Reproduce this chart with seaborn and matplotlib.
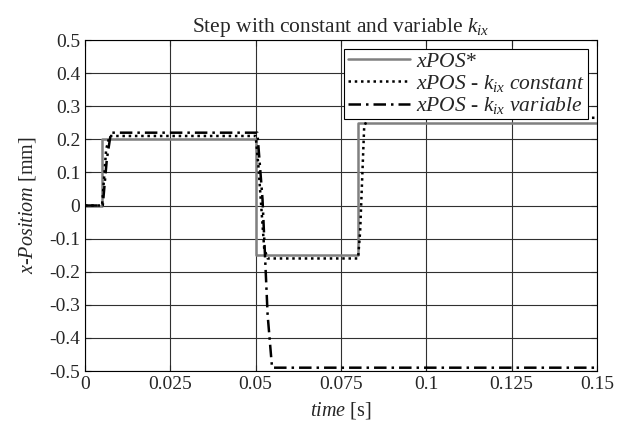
import matplotlib
matplotlib.use("Agg")
import matplotlib.pyplot as plt
import seaborn as sns
import pandas as pd

sns.set_style("ticks")
plt.rcParams['font.family'] = ['Liberation Serif', 'DejaVu Serif']
plt.rcParams['mathtext.fontset'] = 'custom'
plt.rcParams['mathtext.rm'] = 'Liberation Serif'
plt.rcParams['mathtext.it'] = 'Liberation Serif:italic'

t_ref = [0, 0.005, 0.005, 0.05, 0.05, 0.08, 0.08, 0.15]
y_ref = [0, 0, 0.2, 0.2, -0.15, -0.15, 0.25, 0.25]
t_const = [0, 0.005, 0.0062, 0.0072, 0.05, 0.0508, 0.0525, 0.0535, 0.08, 0.0806, 0.0818, 0.083, 0.15]
y_const = [0, 0, 0.17, 0.21, 0.21, 0.12, -0.13, -0.16, -0.16, -0.08, 0.24, 0.265, 0.265]
t_var = [0, 0.0052, 0.0064, 0.0076, 0.0505, 0.052, 0.0535, 0.0548, 0.15]
y_var = [0, 0, 0.14, 0.22, 0.22, 0.02, -0.33, -0.49, -0.49]

labels = [r"$xPOS$*", r"$xPOS$ - $k_{ix}$ $constant$", r"$xPOS$ - $k_{ix}$ $variable$"]

fig = plt.figure(figsize=(6.17, 4.23), dpi=100)
ax = fig.add_axes([85 / 617, 1 - 371 / 423, 512 / 617, 331 / 423])

sns.lineplot(x=t_ref, y=y_ref, ax=ax, sort=False, estimator=None, color='#808080', lw=1.8, label=labels[0])
sns.lineplot(x=t_const, y=y_const, ax=ax, sort=False, estimator=None, color='black', lw=1.8,
             linestyle=(0, (1, 1.5)), label=labels[1])
sns.lineplot(x=t_var, y=y_var, ax=ax, sort=False, estimator=None, color='black', lw=1.8,
             linestyle=(0, (5, 2, 1, 2)), label=labels[2])

ax.set_xlim(0, 0.15)
ax.set_ylim(-0.5, 0.5)
ax.set_xticks([0, 0.025, 0.05, 0.075, 0.1, 0.125, 0.15])
ax.set_xticklabels(['0', '0.025', '0.05', '0.075', '0.1', '0.125', '0.15'])
yt = [round(-0.5 + 0.1 * i, 1) for i in range(11)]
ax.set_yticks(yt)
ax.set_yticklabels(['0' if v == 0 else f"{v:g}" for v in yt])
ax.grid(True, color='#303030', lw=0.8)
ax.tick_params(direction='in', labelsize=14, top=True, right=True, length=4)
for s in ax.spines.values():
    s.set_color('black')
    s.set_linewidth(0.8)

ax.set_title(r"Step with constant and variable $k_{ix}$", fontsize=15.5, pad=6)
ax.set_xlabel(r"$time$ [s]", fontsize=14.5, labelpad=5)
ax.set_ylabel(r"$x$-$Positiom$ [mm]", fontsize=14.5, labelpad=8)

leg = ax.legend(loc='upper right', fontsize=15.5, frameon=True, fancybox=False,
                edgecolor='black', framealpha=1, handlelength=2.9,
                borderpad=0.15, labelspacing=0.05, handletextpad=0.3,
                borderaxespad=0.4)
leg.get_frame().set_linewidth(0.8)

fig.savefig("out.png", dpi=100)
